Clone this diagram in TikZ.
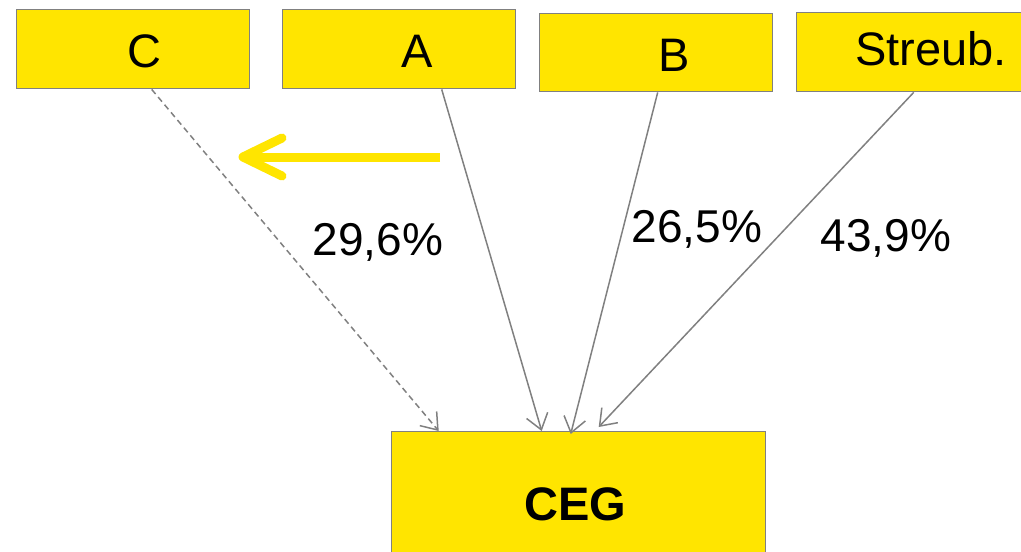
\documentclass[tikz,border=0pt]{standalone}
\usepackage{fontspec}
\setmainfont{Liberation Sans}
\usetikzlibrary{arrows.meta}
\definecolor{boxyellow}{HTML}{FFE500}
\definecolor{edgegray}{HTML}{808080}
\tikzset{
  box/.style={draw=edgegray, line width=1.4pt, fill=boxyellow, inner sep=0pt, anchor=north west},
  boxtext/.style={anchor=base, inner sep=0pt, font=\fontsize{47}{50}\selectfont},
  pct/.style={anchor=base, inner sep=0pt, font=\fontsize{46}{50}\selectfont},
  conn/.style={draw=edgegray, line width=1.5pt, -{Straight Barb[length=15pt,width=22pt,line width=1.5pt]}},
}
\begin{document}
\begin{tikzpicture}[x=1pt,y=-1pt]
\useasboundingbox (0,0) rectangle (1021,552);
% boxes
\node[box, minimum width=233pt, minimum height=79pt] (cbox) at (16,9) {};
\node[box, minimum width=233pt, minimum height=79pt] (abox) at (282,9) {};
\node[box, minimum width=233pt, minimum height=78pt] (bbox) at (539,13) {};
\node[box, minimum width=234pt, minimum height=79pt] (sbox) at (796,12) {};
\node[box, minimum width=374pt, minimum height=150pt] (ceg) at (391,431) {};
% box texts
\node[boxtext] (ct) at (144,67) {C};
\node[boxtext] (at) at (417,67) {A};
\node[boxtext] (bt) at (674,71) {B};
\node[boxtext] (st) at (931,65) {Streub.};
\node[boxtext, font=\fontsize{47}{50}\selectfont\bfseries] (cegt) at (575,520) {CEG};
% percentages
\node[pct] (p1) at (378,255) {29,6\%};
\node[pct] (p2) at (697,242) {26,5\%};
\node[pct] (p3) at (886,251) {43,9\%};
% connectors
\draw[conn, dashed, dash pattern=on 6pt off 4pt] ([xshift=18.5pt]cbox.south) -- ([xshift=-140pt]ceg.north);
\draw[conn] ([xshift=42.5pt]abox.south) -- ([xshift=-37pt]ceg.north);
\draw[conn] ([xshift=1.5pt]bbox.south) -- ([xshift=-8pt,yshift=-3pt]ceg.north);
\draw[conn] (sbox.south) -- ([xshift=20pt,yshift=4pt]ceg.north);
% yellow arrow
\coordinate (ya) at (440,157);
\coordinate (yb) at (246,157);
\coordinate (yt) at (243,157);
\draw[boxyellow, line width=9pt] (ya) -- (yb);
\draw[boxyellow, line width=9pt, line cap=round, line join=round] (282,138) -- (yt) -- (282,176);
\end{tikzpicture}
\end{document}
